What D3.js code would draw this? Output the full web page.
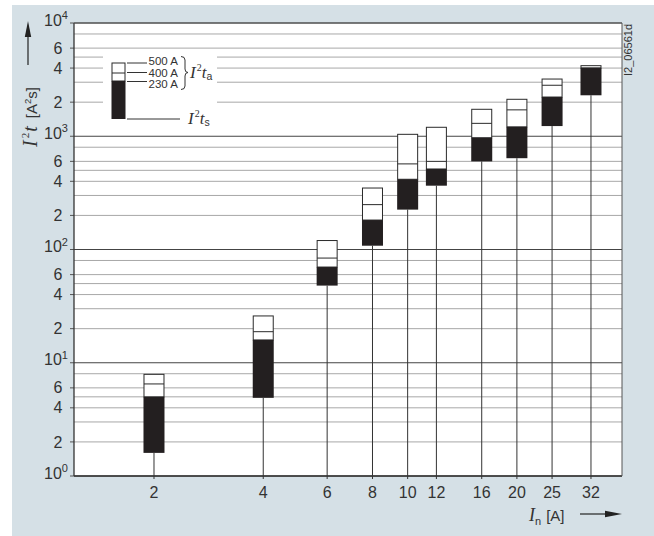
<!DOCTYPE html>
<html><head><meta charset="utf-8">
<script src="https://cdn.jsdelivr.net/npm/d3@7/dist/d3.min.js"></script>
<style>body{margin:0;background:#fff}svg{display:block}</style>
</head><body>
<svg id="c" width="654" height="536"></svg>
<script>
// ---- data ----
const currents = [2, 4, 6, 8, 10, 12, 16, 20, 25, 32];           // I_n [A]
const i2ts     = [1.6, 4.9, 48, 108, 225, 366, 600, 640, 1230, 2300];   // pre-arcing I²t_s
const i2ta230  = [5.0, 15.9, 70, 182, 417, 514, 970, 1210, 2220, 4000];  // I²t_a at 230 V
const i2ta400  = [6.5, 18.8, 84, 249, 570, 600, 1300, 1710, 2820, 4000]; // I²t_a at 400 V
const i2ta500  = [7.9, 25.9, 120, 349, 1040, 1200, 1730, 2120, 3200, 4200]; // I²t_a at 500 V
const decades = [1, 10, 100, 1000, 10000];
const decadeExp = ["0", "1", "2", "3", "4"];
const minorGrid = [2, 3, 4, 5, 6, 8];
const minorLabels = [2, 4, 6];
const legendLabels = ["500 A", "400 A", "230 A"];

const svg = d3.select("#c");
const L = 74, R = 622, T = 23, B = 476;
const x = d3.scaleLog().domain([1.204, 38.96]).range([L, R]);
const y = d3.scaleLog().domain([1, 10000]).range([B, T]);
const sans = "'Liberation Sans', Arial, Helvetica, sans-serif";
const serif = "'Liberation Serif', 'Times New Roman', serif";

// background
svg.append("rect").attr("x", 12).attr("y", 5).attr("width", 642).attr("height", 531).attr("fill", "#d5e0e6");
svg.append("rect").attr("x", L).attr("y", T).attr("width", R - L).attr("height", B - T).attr("fill", "#fff");

// grid
const minorVals = [];
decades.slice(0, 4).forEach(d => minorGrid.forEach(m => minorVals.push(d * m)));
const g = svg.append("g");
g.selectAll("line.minor").data(minorVals).join("line")
  .attr("x1", L).attr("x2", R).attr("y1", d => y(d)).attr("y2", d => y(d))
  .attr("stroke", "#a8a8a8").attr("stroke-width", 1);
g.selectAll("line.dec").data(decades).join("line")
  .attr("x1", L).attr("x2", R).attr("y1", d => y(d)).attr("y2", d => y(d))
  .attr("stroke", "#444").attr("stroke-width", 1.2);

// legend white-out
svg.append("rect").attr("x", 103).attr("y", 51).attr("width", 114).attr("height", 76).attr("fill", "#fff");

// y ticks + labels
const minorLab = [];
decades.slice(0, 4).forEach(d => minorLabels.forEach(m => minorLab.push(d * m)));
svg.selectAll("line.yt").data(minorLab.concat(decades)).join("line")
  .attr("x1", 70).attr("x2", L).attr("y1", d => y(d)).attr("y2", d => y(d))
  .attr("stroke", "#555").attr("stroke-width", 1);
svg.selectAll("text.ym").data(minorLab).join("text")
  .attr("x", 62.5).attr("y", d => y(d) + 5.6).attr("text-anchor", "end")
  .attr("font-family", sans).attr("font-size", 16).attr("fill", "#333")
  .text(d => String(d).charAt(0));
decades.forEach((d, i) => {
  const t = svg.append("text").attr("x", 44).attr("y", y(d) + 2.5)
    .attr("font-family", sans).attr("font-size", 16).attr("fill", "#333");
  t.append("tspan").text("10");
  t.append("tspan").attr("dy", -6.5).attr("font-size", 11).text(decadeExp[i]);
});

// axes frame
svg.append("line").attr("x1", L).attr("x2", L).attr("y1", T).attr("y2", B).attr("stroke", "#333").attr("stroke-width", 1.3);
svg.append("line").attr("x1", L).attr("x2", R).attr("y1", B).attr("y2", B).attr("stroke", "#333").attr("stroke-width", 1.3);
svg.append("line").attr("x1", R).attr("x2", R).attr("y1", T).attr("y2", B).attr("stroke", "#555").attr("stroke-width", 1);
svg.append("line").attr("x1", L).attr("x2", R).attr("y1", T).attr("y2", T).attr("stroke", "#555").attr("stroke-width", 1);

// bars
const data = currents.map((c, i) => ({c, s: i2ts[i], a230: i2ta230[i], a400: i2ta400[i], a500: i2ta500[i]}));
const bw = 20;
const bars = svg.append("g");
bars.selectAll("line.stem").data(data).join("line")
  .attr("x1", d => x(d.c)).attr("x2", d => x(d.c)).attr("y1", d => y(d.s)).attr("y2", B + 3)
  .attr("stroke", "#333").attr("stroke-width", 1);
bars.selectAll("rect.w").data(data).join("rect")
  .attr("x", d => x(d.c) - bw / 2).attr("width", bw)
  .attr("y", d => y(d.a500)).attr("height", d => y(d.a230) - y(d.a500))
  .attr("fill", "#fff").attr("stroke", "#2a2a2a").attr("stroke-width", 1);
bars.selectAll("line.m").data(data).join("line")
  .attr("x1", d => x(d.c) - bw / 2).attr("x2", d => x(d.c) + bw / 2)
  .attr("y1", d => y(d.a400)).attr("y2", d => y(d.a400))
  .attr("stroke", "#2a2a2a").attr("stroke-width", 1);
bars.selectAll("rect.b").data(data).join("rect")
  .attr("x", d => x(d.c) - bw / 2 - 0.5).attr("width", bw + 1)
  .attr("y", d => y(d.a230)).attr("height", d => y(d.s) - y(d.a230))
  .attr("fill", "#231f20");

// x labels
svg.selectAll("text.xl").data(currents).join("text")
  .attr("x", d => x(d)).attr("y", 497.8).attr("text-anchor", "middle")
  .attr("font-family", sans).attr("font-size", 16).attr("fill", "#333").text(d => d);

// x title
const xt = svg.append("text").attr("x", 529).attr("y", 521).attr("fill", "#333");
xt.append("tspan").attr("font-family", serif).attr("font-style", "italic").attr("font-size", 18).text("I");
xt.append("tspan").attr("font-family", sans).attr("font-size", 11).attr("dy", 3.5).text("n");
xt.append("tspan").attr("font-family", sans).attr("font-size", 15).attr("dy", -3.5).attr("dx", 5).text("[A]");
svg.append("line").attr("x1", 580).attr("x2", 608).attr("y1", 514).attr("y2", 514).attr("stroke", "#222").attr("stroke-width", 1.2);
svg.append("path").attr("d", "M622,514 L605,510.8 L605,517.2 Z").attr("fill", "#222");

// y title
const yt = svg.append("text").attr("transform", "translate(37,147) rotate(-90)").attr("fill", "#333");
yt.append("tspan").attr("font-family", serif).attr("font-style", "italic").attr("font-size", 20).text("I");
yt.append("tspan").attr("font-family", serif).attr("font-size", 11).attr("dy", -8).attr("dx", 2).text("2");
yt.append("tspan").attr("font-family", serif).attr("font-style", "italic").attr("font-size", 20).attr("dy", 8).attr("dx", 1).text("t");
yt.append("tspan").attr("font-family", sans).attr("font-size", 15).attr("dx", 8).text("[A");
yt.append("tspan").attr("font-family", sans).attr("font-size", 9.5).attr("dy", -6.5).text("2");
yt.append("tspan").attr("font-family", sans).attr("font-size", 15).attr("dy", 6.5).text("s]");
svg.append("line").attr("x1", 28).attr("x2", 28).attr("y1", 65).attr("y2", 34).attr("stroke", "#222").attr("stroke-width", 1.2);
svg.append("path").attr("d", "M28,21 L24.8,37 L31.2,37 Z").attr("fill", "#222");

// code label
svg.append("text").attr("transform", "translate(632,76) rotate(-90)")
  .attr("font-family", sans).attr("font-size", 11).attr("fill", "#333").text("I2_06561d");

// legend
const lg = svg.append("g");
lg.append("rect").attr("x", 112).attr("y", 63).attr("width", 13).attr("height", 18).attr("fill", "#fff").attr("stroke", "#2a2a2a");
lg.append("line").attr("x1", 112).attr("x2", 125).attr("y1", 73).attr("y2", 73).attr("stroke", "#2a2a2a");
lg.append("rect").attr("x", 111.5).attr("y", 81).attr("width", 14).attr("height", 38).attr("fill", "#231f20");
const ly = [63, 72.5, 81.5];
const lty = [61, 72.5, 84];
lg.selectAll("line.ll").data(ly).join("line")
  .attr("x1", 127).attr("x2", 147).attr("y1", d => d).attr("y2", d => d).attr("stroke", "#333");
lg.selectAll("text.lt").data(legendLabels).join("text")
  .attr("x", 148.5).attr("y", (d, i) => lty[i] + 4.1)
  .attr("font-family", sans).attr("font-size", 11.5).attr("fill", "#333").text(d => d);
lg.append("path").attr("d", "M181,56.5 Q185,56.5 185,60 L185,69 Q185,72.5 188,72.5 Q185,72.5 185,76 L185,86 Q185,89.5 181,89.5")
  .attr("fill", "none").attr("stroke", "#333").attr("stroke-width", 1);
const la = lg.append("text").attr("x", 190).attr("y", 78).attr("fill", "#333");
la.append("tspan").attr("font-family", serif).attr("font-style", "italic").attr("font-size", 17).text("I");
la.append("tspan").attr("font-family", serif).attr("font-size", 10).attr("dy", -7).attr("dx", 1).text("2");
la.append("tspan").attr("font-family", serif).attr("font-style", "italic").attr("font-size", 17).attr("dy", 7).text("t");
la.append("tspan").attr("font-family", sans).attr("font-size", 10.5).attr("dy", 2).text("a");
lg.append("line").attr("x1", 127).attr("x2", 180).attr("y1", 119).attr("y2", 119).attr("stroke", "#333");
const ls = lg.append("text").attr("x", 188).attr("y", 123.5).attr("fill", "#333");
ls.append("tspan").attr("font-family", serif).attr("font-style", "italic").attr("font-size", 17).text("I");
ls.append("tspan").attr("font-family", serif).attr("font-size", 10).attr("dy", -7).attr("dx", 1).text("2");
ls.append("tspan").attr("font-family", serif).attr("font-style", "italic").attr("font-size", 17).attr("dy", 7).text("t");
ls.append("tspan").attr("font-family", sans).attr("font-size", 10.5).attr("dy", 2).text("s");
</script>
</body></html>
